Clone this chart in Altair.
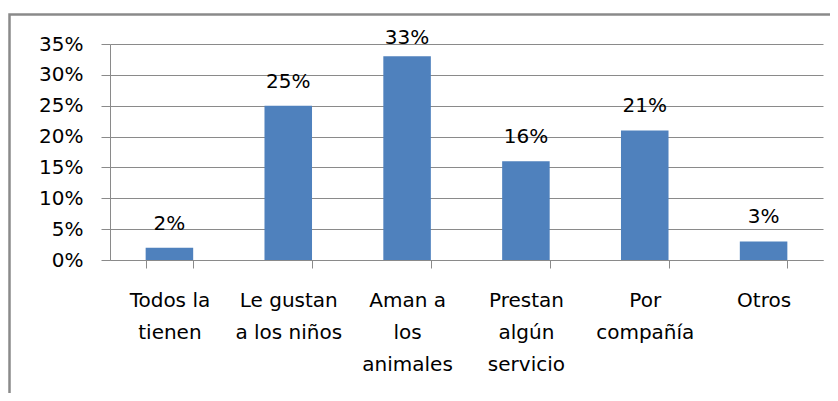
import altair as alt
import pandas as pd

categories = ["Todos la\ntienen", "Le gustan\na los niños", "Aman a\nlos\nanimales",
              "Prestan\nalgún\nservicio", "Por\ncompañía", "Otros"]
values = [0.02, 0.25, 0.33, 0.16, 0.21, 0.03]
y_ticks = [0, 0.05, 0.10, 0.15, 0.20, 0.25, 0.30, 0.35]

df = pd.DataFrame({"cat": categories, "val": values})
frame_df = pd.DataFrame({"a": [0]})

FONT = "DejaVu Sans"
GRID = "#8a8a8a"

x_enc = alt.X("cat:N", sort=None, title=None,
              scale=alt.Scale(paddingInner=0.6, paddingOuter=0.3),
              axis=alt.Axis(labelAngle=0, labelExpr="split(datum.label, '\\n')",
                            labelFontSize=20, labelFont=FONT, labelColor="#000000",
                            labelLineHeight=32, labelPadding=22, labelBaseline="top",
                            tickBand="extent", tickSize=8, tickColor=GRID,
                            domainColor=GRID, labelLimit=200, labelOverlap=False))
y_axis = alt.Axis(values=y_ticks, format=".0%", labelFontSize=20, labelFont=FONT,
                  labelColor="#000000", tickSize=9, tickColor=GRID,
                  labelPadding=18, domainColor=GRID, gridColor=GRID,
                  gridOpacity=1, labelOverlap=False)
y_scale = alt.Scale(domain=[0, 0.35], nice=False)

frame = alt.Chart(frame_df).mark_rect(filled=False, stroke="#8a8a8a", strokeWidth=2.5).encode(
    x=alt.value(-100.5), x2=alt.value(760), y=alt.value(-29.5), y2=alt.value(400)
)

bars = alt.Chart(df).mark_bar(color="#4F81BD").encode(
    x=x_enc, y=alt.Y("val:Q", title=None, scale=y_scale, axis=y_axis)
)
# labels are kept inside the plot area (as the original does for the tallest bar)
labels = alt.Chart(df).transform_calculate(
    ly="min(datum.val, 0.3215)"
).mark_text(dy=-18, baseline="alphabetic", fontSize=20, font=FONT,
            color="#000000").encode(
    x=x_enc, y=alt.Y("ly:Q", title=None, scale=y_scale, axis=y_axis),
    text=alt.Text("val:Q", format=".0%")
)

chart = alt.layer(frame, bars, labels).properties(
    width=713, height=216,
    autosize=alt.AutoSizeParams(type="none"),
    padding={"left": 102, "top": 36, "right": 7, "bottom": 133},
).configure_view(stroke=None)

chart.save("out.html", embed_options={"renderer": "svg", "actions": False})
